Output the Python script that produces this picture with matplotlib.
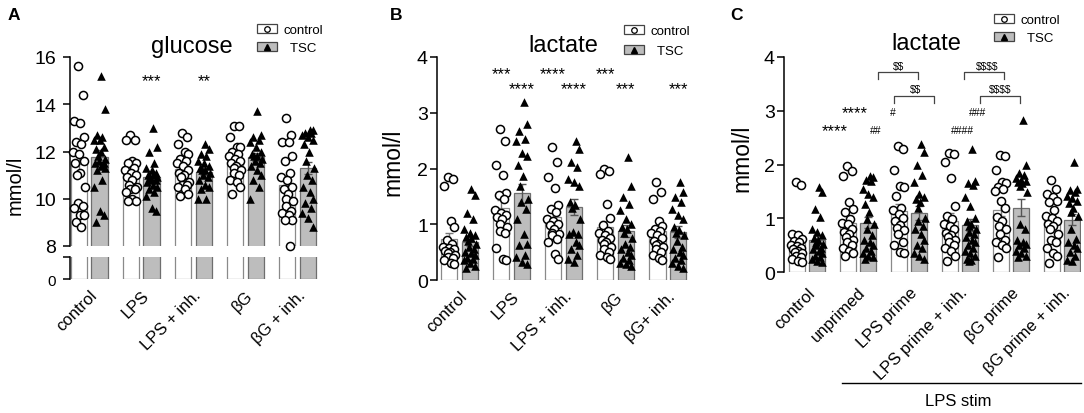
import numpy as np
import matplotlib
matplotlib.use("Agg")
import matplotlib.pyplot as plt
from matplotlib.patches import Patch
from matplotlib.lines import Line2D
from matplotlib.legend_handler import HandlerTuple
from matplotlib.transforms import ScaledTranslation

plt.rcParams['font.family'] = ['Liberation Sans', 'DejaVu Sans']
plt.rcParams['text.parse_math'] = False

# ---------------- data ----------------
A_labels = ["control", "LPS", "LPS + inh.", "\u03b2G", "\u03b2G + inh."]
A_ctrl_mean = [11.45, 11.05, 11.25, 11.55, 10.6]
A_ctrl_sem = [0.40, 0.20, 0.18, 0.17, 0.30]
A_tsc_mean = [11.75, 10.9, 11.15, 11.75, 11.3]
A_tsc_sem = [0.30, 0.17, 0.14, 0.17, 0.25]
A_ctrl_pts = [
    [15.6, 14.4, 13.3, 13.2, 12.6, 12.4, 12.3, 12.0, 11.9, 11.6, 11.5, 11.1, 11.0, 10.5, 9.8, 9.7, 9.6, 9.3, 9.3, 9.0, 8.8],
    [12.7, 12.5, 12.5, 11.6, 11.5, 11.5, 11.3, 11.2, 11.1, 11.0, 10.9, 10.8, 10.6, 10.5, 10.4, 10.4, 10.3, 10.0, 9.9, 9.9],
    [12.8, 12.6, 12.3, 12.0, 11.9, 11.7, 11.6, 11.5, 11.4, 11.2, 11.1, 11.0, 10.9, 10.7, 10.6, 10.6, 10.5, 10.4, 10.2, 10.1],
    [13.1, 13.1, 12.6, 12.2, 12.2, 12.0, 11.9, 11.8, 11.7, 11.6, 11.5, 11.4, 11.3, 11.2, 11.1, 11.0, 10.8, 10.7, 10.5, 10.2],
    [13.4, 12.7, 12.4, 12.4, 11.8, 11.6, 11.1, 10.9, 10.8, 10.5, 10.4, 10.2, 10.0, 9.9, 9.7, 9.5, 9.4, 9.3, 9.1, 9.1, 8.0],
]
A_tsc_pts = [
    [15.2, 13.8, 12.7, 12.6, 12.5, 12.5, 12.2, 12.1, 12.0, 11.8, 11.7, 11.6, 11.5, 11.5, 11.4, 11.3, 11.2, 10.8, 10.5, 9.5, 9.3, 9.0],
    [13.0, 12.2, 12.0, 11.5, 11.3, 11.2, 11.1, 11.0, 11.0, 10.9, 10.9, 10.8, 10.8, 10.7, 10.6, 10.5, 10.4, 10.3, 10.1, 9.6, 9.5],
    [12.3, 12.1, 11.9, 11.8, 11.6, 11.5, 11.4, 11.3, 11.2, 11.2, 11.1, 11.0, 10.9, 10.8, 10.6, 10.5, 10.4, 10.0, 10.0],
    [13.7, 12.7, 12.6, 12.5, 12.4, 12.2, 12.0, 11.9, 11.8, 11.8, 11.7, 11.6, 11.5, 11.4, 11.2, 11.0, 10.8, 10.5, 10.0],
    [12.9, 12.9, 12.8, 12.8, 12.7, 12.6, 12.5, 12.3, 12.0, 11.6, 11.3, 11.0, 10.8, 10.5, 10.3, 10.0, 9.8, 9.6, 9.4, 9.2, 8.8],
]
A_stars = ["", "***", "**", "", ""]

B_labels = ["control", "LPS", "LPS + inh.", "\u03b2G", "\u03b2G+ inh."]
B_ctrl_mean = [0.74, 1.29, 1.13, 0.95, 0.88]
B_ctrl_sem = [0.10, 0.15, 0.12, 0.10, 0.08]
B_tsc_mean = [0.69, 1.56, 1.31, 0.88, 0.86]
B_tsc_sem = [0.08, 0.17, 0.14, 0.10, 0.10]
B_ctrl_pts = [
    [1.85, 1.82, 1.68, 1.06, 0.95, 0.72, 0.65, 0.6, 0.58, 0.55, 0.52, 0.5, 0.48, 0.45, 0.42, 0.4, 0.35, 0.3, 0.28],
    [2.71, 2.5, 2.07, 1.89, 1.56, 1.52, 1.46, 1.25, 1.2, 1.17, 1.13, 1.1, 1.0, 0.95, 0.88, 0.85, 0.57, 0.38, 0.36],
    [2.38, 2.11, 1.84, 1.65, 1.35, 1.28, 1.22, 1.1, 1.05, 1.0, 0.98, 0.92, 0.85, 0.82, 0.8, 0.74, 0.68, 0.47, 0.38],
    [1.99, 1.95, 1.9, 1.37, 1.12, 0.98, 0.88, 0.85, 0.8, 0.75, 0.72, 0.68, 0.65, 0.6, 0.55, 0.5, 0.45, 0.42, 0.38],
    [1.76, 1.58, 1.45, 1.06, 0.97, 0.92, 0.88, 0.85, 0.8, 0.75, 0.7, 0.65, 0.62, 0.6, 0.55, 0.5, 0.45, 0.4, 0.35],
]
B_tsc_pts = [
    [1.63, 1.52, 1.2, 1.1, 0.92, 0.85, 0.8, 0.78, 0.75, 0.7, 0.65, 0.6, 0.55, 0.5, 0.48, 0.45, 0.4, 0.38, 0.35, 0.3, 0.25, 0.22],
    [3.19, 2.8, 2.68, 2.53, 2.49, 2.28, 2.23, 2.07, 1.87, 1.69, 1.46, 1.4, 1.28, 1.1, 0.83, 0.65, 0.62, 0.44, 0.41, 0.32, 0.29],
    [2.5, 2.35, 2.11, 2.02, 1.81, 1.75, 1.69, 1.4, 1.34, 1.3, 1.1, 0.86, 0.83, 0.83, 0.68, 0.62, 0.56, 0.44, 0.38, 0.32],
    [2.2, 1.69, 1.49, 1.37, 1.25, 1.1, 1.0, 0.95, 0.92, 0.85, 0.75, 0.65, 0.6, 0.55, 0.5, 0.45, 0.4, 0.35, 0.3, 0.28, 0.25],
    [1.76, 1.58, 1.49, 1.4, 1.28, 1.16, 1.1, 0.95, 0.9, 0.85, 0.8, 0.7, 0.6, 0.55, 0.5, 0.45, 0.4, 0.35, 0.3, 0.25, 0.22],
]
B_stars_ctrl = ["", "***", "****", "***", ""]
B_stars_tsc = ["", "****", "****", "***", "***"]

C_labels = ["control", "unprimed", "LPS prime", "LPS prime + inh.", "\u03b2G prime", "\u03b2G prime + inh."]
C_ctrl_mean = [0.57, 0.92, 1.13, 0.95, 1.16, 0.95]
C_ctrl_sem = [0.09, 0.12, 0.13, 0.15, 0.12, 0.10]
C_tsc_mean = [0.60, 0.92, 1.10, 0.87, 1.20, 0.97]
C_tsc_sem = [0.08, 0.10, 0.13, 0.11, 0.15, 0.10]
C_ctrl_pts = [
    [1.67, 1.62, 0.71, 0.68, 0.62, 0.58, 0.55, 0.5, 0.48, 0.45, 0.42, 0.4, 0.38, 0.35, 0.3, 0.28, 0.25, 0.2, 0.18],
    [1.97, 1.87, 1.79, 1.3, 1.17, 1.11, 0.99, 0.92, 0.89, 0.8, 0.75, 0.71, 0.65, 0.6, 0.55, 0.5, 0.45, 0.4, 0.35, 0.3],
    [2.35, 2.29, 1.9, 1.6, 1.58, 1.42, 1.2, 1.15, 1.08, 1.0, 0.95, 0.88, 0.82, 0.78, 0.7, 0.55, 0.5, 0.37, 0.36],
    [2.22, 2.2, 2.05, 1.75, 1.22, 1.05, 0.98, 0.9, 0.85, 0.8, 0.72, 0.68, 0.65, 0.6, 0.55, 0.5, 0.45, 0.4, 0.3, 0.2],
    [2.18, 2.16, 1.9, 1.68, 1.65, 1.58, 1.55, 1.5, 1.32, 1.2, 1.02, 0.95, 0.85, 0.8, 0.7, 0.6, 0.55, 0.5, 0.45, 0.27],
    [1.72, 1.55, 1.45, 1.4, 1.32, 1.3, 1.15, 1.05, 1.0, 0.95, 0.9, 0.85, 0.8, 0.7, 0.6, 0.55, 0.45, 0.35, 0.3, 0.17],
]
C_tsc_pts = [
    [1.59, 1.48, 1.18, 1.02, 0.8, 0.74, 0.68, 0.64, 0.6, 0.55, 0.52, 0.5, 0.45, 0.42, 0.4, 0.35, 0.3, 0.28, 0.25, 0.2, 0.18],
    [1.79, 1.76, 1.72, 1.7, 1.55, 1.45, 1.39, 1.27, 1.11, 0.99, 0.89, 0.8, 0.68, 0.6, 0.55, 0.5, 0.45, 0.4, 0.35, 0.3, 0.27, 0.25],
    [2.38, 2.24, 2.0, 1.8, 1.68, 1.45, 1.4, 1.35, 1.3, 1.2, 1.0, 0.95, 0.85, 0.8, 0.7, 0.6, 0.5, 0.45, 0.35, 0.3, 0.25],
    [2.28, 1.7, 1.65, 1.62, 1.4, 1.22, 1.0, 0.95, 0.9, 0.85, 0.8, 0.75, 0.7, 0.65, 0.6, 0.55, 0.5, 0.45, 0.4, 0.35, 0.3, 0.25, 0.22, 0.2],
    [2.82, 2.0, 1.85, 1.8, 1.75, 1.72, 1.7, 1.68, 1.65, 1.6, 1.48, 0.9, 0.8, 0.6, 0.55, 0.52, 0.5, 0.45, 0.4, 0.35, 0.3, 0.28],
    [2.05, 1.55, 1.52, 1.48, 1.42, 1.38, 1.32, 1.28, 1.2, 1.12, 1.05, 0.8, 0.62, 0.55, 0.5, 0.45, 0.38, 0.3, 0.22, 0.2],
]
# annotations in panel C: (text, x, y)
C_annot = [("****", 0.94, 2.98), ("****", 0.55, 2.64), ("##", 1.35, 2.64), ("#", 1.69, 2.98),
           ("####", 3.04, 2.64), ("###", 3.35, 2.98),
           ("$$", 1.79, 3.84), ("$$", 2.12, 3.41), ("$$$$", 3.53, 3.84), ("$$$$", 3.79, 3.41)]
# brackets: (x_left, x_right, y_top)
C_brackets = [(1.39, 2.18, 3.72), (1.71, 2.49, 3.28), (3.08, 3.86, 3.72), (3.39, 4.18, 3.28)]

# ---------------- style ----------------
W, H = 1084, 414
fig = plt.figure(figsize=(W / 100, H / 100), dpi=100)

def fx(x):
    return x / W

def fy(y):
    return 1 - y / H

def px_axes(x0, y0, x1, y1):
    return fig.add_axes([fx(x0), fy(y1), (x1 - x0) / W, (y1 - y0) / H])

WHITE_FACE, WHITE_EDGE = "white", "#8a8a8a"
GREY_FACE, GREY_EDGE = "#bdbdbd", "#6e6e6e"
BW = 0.32
OFF = 0.2
JIT = [-0.02, 0.08, -0.09, 0.03, 0.10, -0.05, 0.05, -0.11, 0.0, 0.09, -0.07, 0.02, -0.03, 0.11]


def draw_bars(ax, n, cm, cs, tm, ts, points=True, cpts=None, tpts=None):
    x = np.arange(n)
    ax.bar(x - OFF, cm, width=BW, color=WHITE_FACE, edgecolor=WHITE_EDGE, linewidth=0.9, zorder=1)
    ax.bar(x + OFF, tm, width=BW, color=GREY_FACE, edgecolor=GREY_EDGE, linewidth=0.9, zorder=1)
    if points:
        ax.errorbar(x - OFF, cm, yerr=cs, fmt="none", ecolor="#777777", elinewidth=1.0, capsize=3, capthick=1.0, zorder=2)
        ax.errorbar(x + OFF, tm, yerr=ts, fmt="none", ecolor="#555555", elinewidth=1.0, capsize=3, capthick=1.0, zorder=2)
        for i in range(n):
            cp = np.array(cpts[i])
            tp = np.array(tpts[i])
            cj = np.array([JIT[k % len(JIT)] for k in range(len(cp))])
            tj = np.array([JIT[(k + 3) % len(JIT)] for k in range(len(tp))])
            ax.scatter(x[i] - OFF + cj, cp, s=34, marker="o", facecolors="white", edgecolors="black",
                       linewidths=1.1, zorder=3, clip_on=False)
            ax.scatter(x[i] + OFF + tj, tp, s=38, marker="^", color="black", linewidths=0, zorder=3, clip_on=False)


def style_axis(ax, pad):
    for s in ["top", "right", "bottom"]:
        ax.spines[s].set_visible(False)
    ax.spines["left"].set_linewidth(1.1)
    ax.tick_params(axis="y", direction="out", length=5, width=1.1, labelsize=14, pad=pad)
    ax.tick_params(axis="x", length=0)


def set_xlabels(ax, labels, dx, pad):
    ax.set_xticks(np.arange(len(labels)))
    ax.set_xticklabels(labels, rotation=45, ha="right", va="top", rotation_mode="anchor", fontsize=12)
    ax.tick_params(axis="x", length=0, pad=pad)
    for lab in ax.get_xticklabels():
        lab.set_transform(lab.get_transform() + ScaledTranslation(dx / 100, 0, fig.dpi_scale_trans))


def add_legend(x, y, spacing):
    handles = [
        (Patch(facecolor=WHITE_FACE, edgecolor="#444444", linewidth=0.9),
         Line2D([], [], marker="o", linestyle="none", markersize=4, markerfacecolor="white", markeredgecolor="black", markeredgewidth=0.9)),
        (Patch(facecolor=GREY_FACE, edgecolor="#444444", linewidth=0.9),
         Line2D([], [], marker="^", linestyle="none", markersize=5, color="black")),
    ]
    fig.legend(handles, ["control", "  TSC"], loc="upper left", bbox_to_anchor=(fx(x), fy(y)),
               bbox_transform=fig.transFigure, frameon=False, fontsize=9.5, handlelength=1.5,
               handleheight=0.7, handletextpad=0.5, labelspacing=spacing, borderpad=0, borderaxespad=0,
               handler_map={tuple: HandlerTuple(ndivide=1)})


# ---------------- Panel A ----------------
axA = px_axes(70, 58, 321, 247)
axA0 = px_axes(70, 258, 321, 280)
nA = len(A_labels)
draw_bars(axA, nA, A_ctrl_mean, A_ctrl_sem, A_tsc_mean, A_tsc_sem, True, A_ctrl_pts, A_tsc_pts)
draw_bars(axA0, nA, A_ctrl_mean, A_ctrl_sem, A_tsc_mean, A_tsc_sem, points=False)
for ax in (axA, axA0):
    ax.set_xlim(-0.37, 4.45)
    style_axis(ax, 5)
axA.set_ylim(8, 16)
axA.set_yticks([8, 10, 12, 14, 16])
axA.set_xticks([])
axA0.set_ylim(0, 1)
axA0.set_yticks([0, 1])
axA0.set_yticklabels(["0", ""], fontsize=11)
set_xlabels(axA0, A_labels, 0, 6)
for i, st in enumerate(A_stars):
    if st:
        axA.text(i + OFF, 14.8, st, ha="center", va="baseline", fontsize=12)
fig.text(fx(15), fy(185), "mmol/l", rotation=90, ha="center", va="center", fontsize=14.5)
fig.text(fx(192), fy(53), "glucose", ha="center", va="baseline", fontsize=17)
fig.text(fx(8), fy(20), "A", ha="left", va="baseline", fontsize=12.5, fontweight="bold")
add_legend(257, 25, 0.45)

# ---------------- Panel B ----------------
axB = px_axes(437, 58, 691, 281)
nB = len(B_labels)
draw_bars(axB, nB, B_ctrl_mean, B_ctrl_sem, B_tsc_mean, B_tsc_sem, True, B_ctrl_pts, B_tsc_pts)
axB.set_xlim(-0.433, 4.45)
axB.set_ylim(0, 4)
axB.set_yticks([0, 1, 2, 3, 4])
style_axis(axB, 1.5)
set_xlabels(axB, B_labels, 0, 6)
for i in range(nB):
    if B_stars_ctrl[i]:
        axB.text(i - OFF, 3.62, B_stars_ctrl[i], ha="center", va="baseline", fontsize=12)
    if B_stars_tsc[i]:
        axB.text(i + OFF, 3.35, B_stars_tsc[i], ha="center", va="baseline", fontsize=12)
fig.text(fx(393), fy(162), "mmol/l", rotation=90, ha="center", va="center", fontsize=16.5)
fig.text(fx(563), fy(52), "lactate", ha="center", va="baseline", fontsize=17)
fig.text(fx(390), fy(20), "B", ha="left", va="baseline", fontsize=12.5, fontweight="bold")
add_legend(624, 26, 0.6)

# ---------------- Panel C ----------------
axC = px_axes(784, 58, 1081, 273)
nC = len(C_labels)
draw_bars(axC, nC, C_ctrl_mean, C_ctrl_sem, C_tsc_mean, C_tsc_sem, True, C_ctrl_pts, C_tsc_pts)
axC.set_xlim(-0.45, 5.37)
axC.set_ylim(0, 4)
axC.set_yticks([0, 1, 2, 3, 4])
style_axis(axC, 1.5)
set_xlabels(axC, C_labels, 0, 9)
for txt, x, y in C_annot:
    fs = 12 if "*" in txt else 7.5
    yy = y - 0.1 if "*" in txt else y - 0.06
    axC.text(x, yy, txt, ha="center", va="baseline", fontsize=fs)
for xl, xr, yt in C_brackets:
    axC.plot([xl, xl, xr, xr], [yt - 0.13, yt, yt, yt - 0.13], color="#444444", lw=0.9, clip_on=False)
fig.text(fx(742), fy(158), "mmol/l", rotation=90, ha="center", va="center", fontsize=16.5)
fig.text(fx(926), fy(50), "lactate", ha="center", va="baseline", fontsize=17)
fig.text(fx(730), fy(20), "C", ha="left", va="baseline", fontsize=12.5, fontweight="bold")
add_legend(994, 15, 0.45)

fig.add_artist(Line2D([fx(842), fx(1081)], [fy(384), fy(384)], transform=fig.transFigure, color="black", lw=1))
fig.text(fx(958), fy(402), "LPS stim", ha="center", va="center", fontsize=12)

fig.savefig("out.png", dpi=100)
